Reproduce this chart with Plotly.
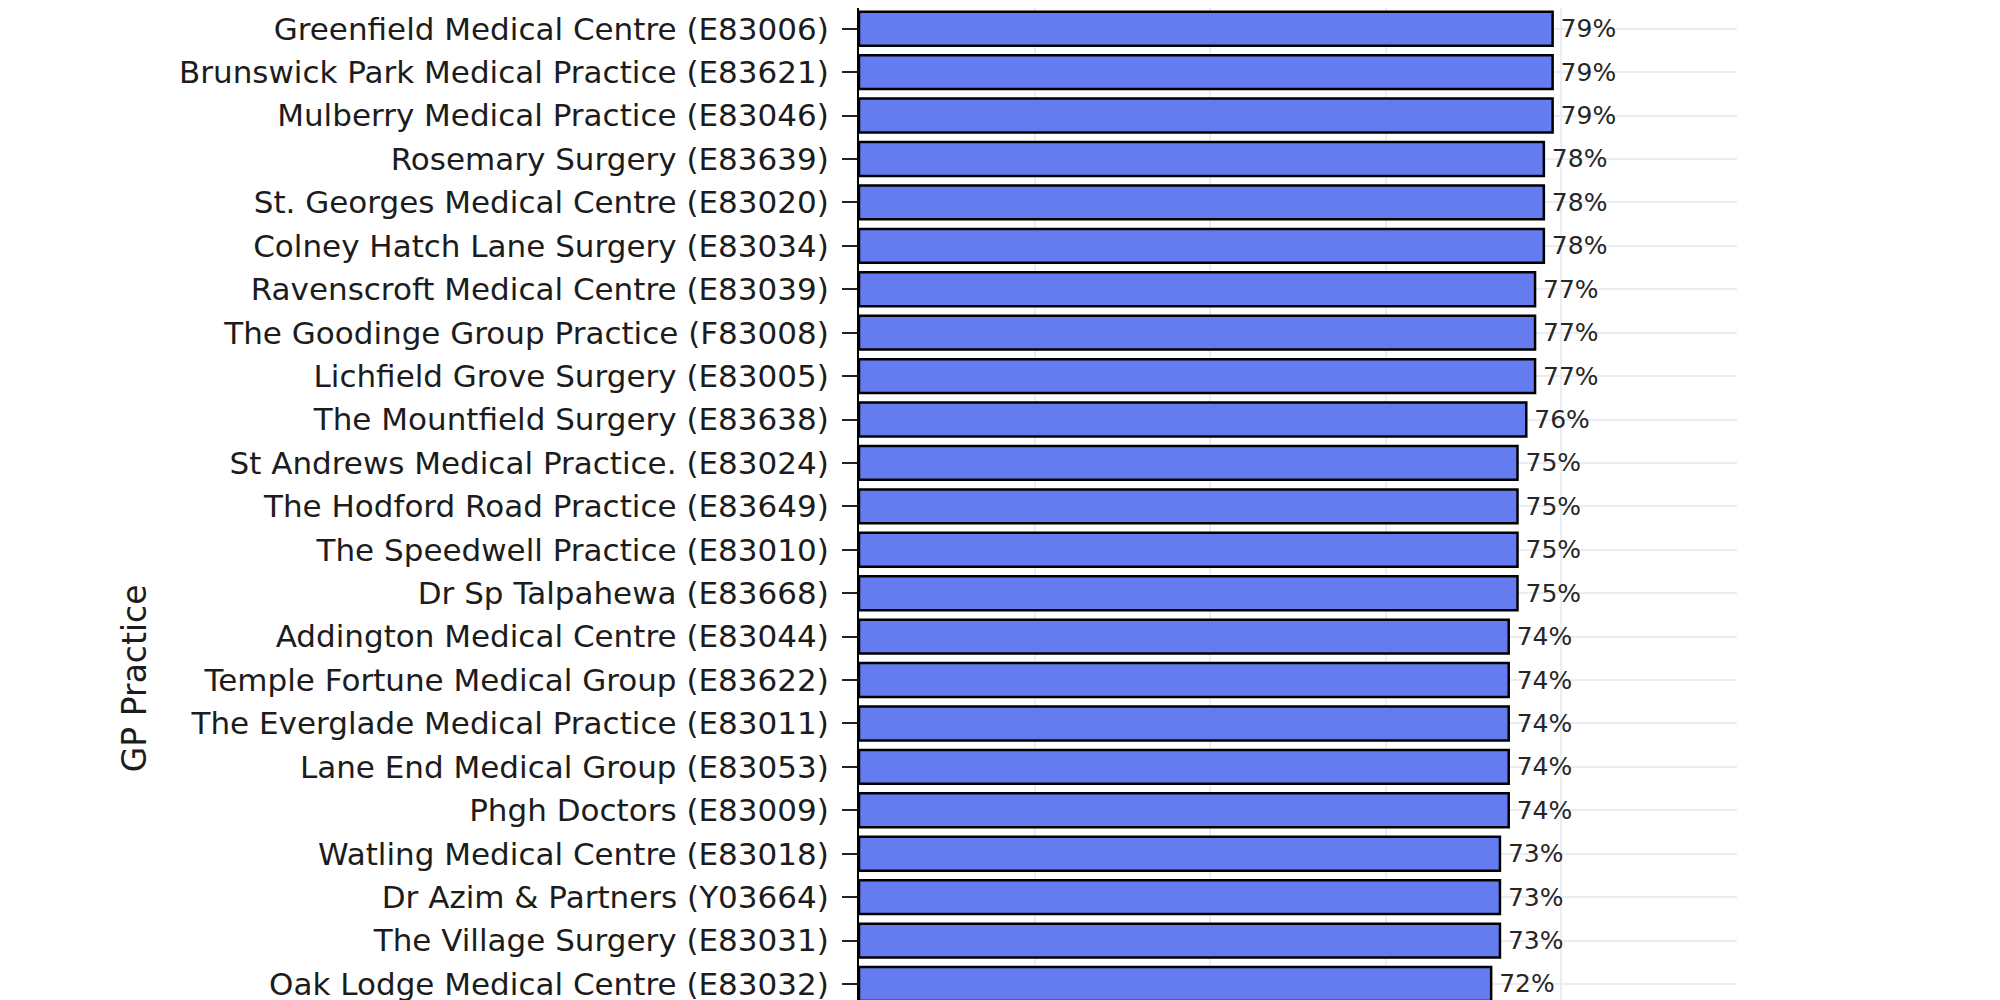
import plotly.graph_objects as go

# Practices listed top-to-bottom as they appear in the chart
practices = [
    "Oakleigh Road Health Centre (E83003)",
    "Greenfield Medical Centre (E83006)",
    "Brunswick Park Medical Practice (E83621)",
    "Mulberry Medical Practice (E83046)",
    "Rosemary Surgery (E83639)",
    "St. Georges Medical Centre (E83020)",
    "Colney Hatch Lane Surgery (E83034)",
    "Ravenscroft Medical Centre (E83039)",
    "The Goodinge Group Practice (F83008)",
    "Lichfield Grove Surgery (E83005)",
    "The Mountfield Surgery (E83638)",
    "St Andrews Medical Practice. (E83024)",
    "The Hodford Road Practice (E83649)",
    "The Speedwell Practice (E83010)",
    "Dr Sp Talpahewa (E83668)",
    "Addington Medical Centre (E83044)",
    "Temple Fortune Medical Group (E83622)",
    "The Everglade Medical Practice (E83011)",
    "Lane End Medical Group (E83053)",
    "Phgh Doctors (E83009)",
    "Watling Medical Centre (E83018)",
    "Dr Azim & Partners (Y03664)",
    "The Village Surgery (E83031)",
    "Oak Lodge Medical Centre (E83032)",
]
values = [79, 79, 79, 79, 78, 78, 78, 77, 77, 77, 76, 75, 75, 75, 75,
          74, 74, 74, 74, 74, 73, 73, 73, 72]
labels = ["\u2009" + f"{v}%" for v in values]

FONT = "DejaVu Sans"
TXT = "#1c1c1c"

fig = go.Figure(
    go.Bar(
        x=values,
        y=practices,
        orientation="h",
        text=labels,
        textposition="outside",
        textfont=dict(family=FONT, size=25, color="#262626"),
        marker=dict(color="#647CF0", line=dict(color="black", width=2.5)),
        cliponaxis=True,
        showlegend=False,
    )
)

fig.update_layout(
    template="plotly_white",
    width=2000,
    height=1000,
    margin=dict(l=851, r=271, t=0, b=0, autoexpand=False),
    paper_bgcolor="white",
    plot_bgcolor="white",
    bargap=0.22,
    font=dict(family=FONT, color=TXT),
)

fig.update_xaxes(
    range=[0, 100],
    dtick=20,
    showgrid=True,
    gridcolor="#EBEDF2",
    gridwidth=1.5,
    zeroline=False,
    showticklabels=False,
    automargin=False,
)

fig.update_yaxes(
    categoryorder="array",
    categoryarray=practices[::-1],
    range=[-0.553, 22.477],
    showgrid=True,
    gridcolor="#EBEDF2",
    gridwidth=1.5,
    showline=True,
    linecolor="black",
    linewidth=2,
    ticks="outside",
    ticklen=15,
    tickwidth=2,
    tickcolor="#222222",
    ticklabelstandoff=7,
    tickfont=dict(family=FONT, size=31, color=TXT),
    automargin=False,
    title=None,
)

# label of the topmost practice (sits just above the visible plot window)
fig.add_annotation(
    xref="paper", yref="y",
    x=0, y=practices[0],
    text=practices[0],
    showarrow=False,
    xanchor="right",
    xshift=-28,
    font=dict(family=FONT, size=31, color=TXT),
)

# y-axis title
fig.add_annotation(
    xref="paper", yref="paper",
    x=-0.85, y=0.234,
    text="GP Practice",
    textangle=-90,
    showarrow=False,
    font=dict(family=FONT, size=33, color=TXT),
)

fig.write_html("out.html")
